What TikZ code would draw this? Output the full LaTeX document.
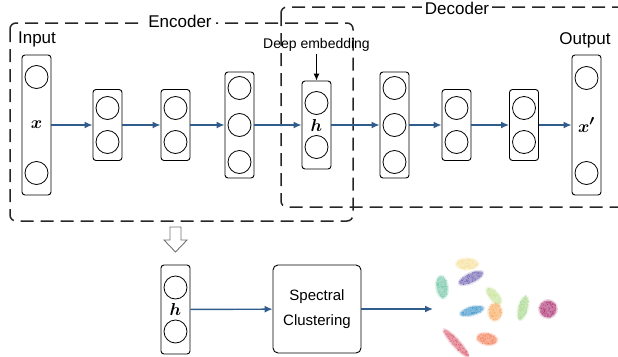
\documentclass[tikz,border=0pt]{standalone}
\usepackage{fontspec}
\setmainfont{Liberation Sans}
\usepackage{amsmath}
\usepackage{bm}
\usetikzlibrary{arrows.meta}
\definecolor{flowblue}{RGB}{47,92,140}
\definecolor{cyellow}{RGB}{246,222,150}
\definecolor{cpurple}{RGB}{108,93,176}
\definecolor{cteal}{RGB}{110,196,164}
\definecolor{clgreen}{RGB}{197,226,150}
\definecolor{cblue}{RGB}{58,147,200}
\definecolor{corange}{RGB}{247,169,92}
\definecolor{cgreen}{RGB}{165,214,138}
\definecolor{cmaroon}{RGB}{168,40,106}
\definecolor{cred}{RGB}{217,86,106}
\definecolor{cored}{RGB}{242,122,80}
\begin{document}
\begin{tikzpicture}[x=1pt,y=-1pt,
  col/.style={draw, rounded corners=3pt, line width=0.9pt, minimum width=29pt, inner sep=0pt},
  unit/.style={draw, circle, minimum size=23pt, inner sep=0pt, line width=0.8pt},
  flow/.style={draw=flowblue, line width=1.4pt, -{Latex[length=8pt,width=7pt]}},
  grp/.style={draw=black!85, line width=1.5pt, dash pattern=on 13pt off 7pt, rounded corners=6pt},
  title/.style={font=\fontsize{17}{20}\selectfont, inner sep=4pt},
  vec/.style={font=\fontsize{19}{22}\selectfont, inner sep=0pt}
]
\path[use as bounding box, clip] (0,0) rectangle (618,356);

% dashed groups
\draw[grp] (281,7) rectangle (640,207);
\draw[grp] (10,23) rectangle (353,221);
\node[title, fill=white] (enc) at (180,21) {Encoder};
\node[title, fill=white, inner sep=3pt] (dec) at (457,8) {Decoder};

% encoder layers
\node[col, minimum height=140pt] (in) at (36.5,125) {};
\node[unit] (in1) at (36.5,77) {};
\node[unit] (in2) at (36.5,173) {};
\node[vec] (inx) at (in) {$\bm{x}$};
\node[title] (inlab) at (37,39) {Input};

\node[col, minimum height=71pt] (e1) at (107.5,125) {};
\node[unit] (e1a) at (107.5,108) {};
\node[unit] (e1b) at (107.5,142) {};

\node[col, minimum height=71pt] (e2) at (175.5,125) {};
\node[unit] (e2a) at (175.5,108) {};
\node[unit] (e2b) at (175.5,142) {};

\node[col, minimum height=106pt] (e3) at (239.5,125) {};
\node[unit] (e3a) at (239.5,88) {};
\node[unit] (e3b) at (239.5,125) {};
\node[unit] (e3c) at (239.5,162) {};

% bottleneck
\node[col, minimum height=88pt] (h) at (316.5,125) {};
\node[unit] (ha) at (316.5,103) {};
\node[unit] (hb) at (316.5,147) {};
\node[vec] (hx) at (h) {$\bm{h}$};
\node[font=\fontsize{14}{16}\selectfont, inner sep=2pt] (de) at (316.5,45) {Deep embedding};

% decoder layers
\node[col, minimum height=106pt] (d1) at (394.5,125) {};
\node[unit] (d1a) at (394.5,88) {};
\node[unit] (d1b) at (394.5,125) {};
\node[unit] (d1c) at (394.5,162) {};

\node[col, minimum height=71pt] (d2) at (456.5,125) {};
\node[unit] (d2a) at (456.5,108) {};
\node[unit] (d2b) at (456.5,142) {};

\node[col, minimum height=71pt] (d3) at (524,125) {};
\node[unit] (d3a) at (524,108) {};
\node[unit] (d3b) at (524,142) {};

\node[col, minimum height=140pt] (out) at (586.5,125) {};
\node[unit] (out1) at (586.5,78) {};
\node[unit] (out2) at (586.5,173) {};
\node[vec] (outx) at (out) {$\bm{x'}$};
\node[title] (outlab) at (585,40) {Output};

% forward connections
\draw[flow] (in) -- (e1);
\draw[flow] (e1) -- (e2);
\draw[flow] (e2) -- (e3);
\draw[flow] (e3) -- (h);
\draw[flow] (h) -- (d1);
\draw[flow] (d1) -- (d2);
\draw[flow] (d2) -- (d3);
\draw[flow] (d3) -- (out);
\draw[line width=0.9pt, -{Latex[length=7pt,width=6pt]}] (de.south) -- (h.north);

% hand-over to clustering
\draw[black!55, line width=0.9pt, fill=white]
  (170,227) -- (181,227) -- (181,240) -- (187,240) -- (175.5,252) -- (164,240) -- (170,240) -- cycle;

\node[col, minimum height=89pt] (hc) at (175.5,309.5) {};
\node[unit] (hca) at (175.5,287.5) {};
\node[unit] (hcb) at (175.5,331.5) {};
\node[vec] (hcx) at (175.5,309) {$\bm{h}$};

\node[draw, rounded corners=5pt, line width=0.9pt, minimum width=88pt, minimum height=88pt,
      align=center, font=\fontsize{15}{25}\selectfont] (sc) at (317,309) {Spectral\\Clustering};
\coordinate (res) at (433,309);
\draw[flow] (hc) -- (sc);
\draw[flow] (sc) -- (res);

% cluster scatter
\pgfmathsetseed{11}
\foreach \cx/\cy/\rx/\ry/\rot/\c in {
  467/264/11/5.5/0/cyellow, 471/278/13/4.5/25/cpurple, 442/287/5.5/11/8/cteal,
  494/296/10/4.5/-50/clgreen, 472/311/12/4/15/cblue, 495/312/6.5/8.5/0/corange,
  523/308/4.5/12/-15/cgreen, 548/309/8.5/8.5/0/cmaroon, 456/343/18/3.5/-48/cred,
  487/339/10/5.5/-10/cored} {
  \begin{scope}[shift={(\cx,\cy)}, rotate=\rot]
    \fill[\c, opacity=0.2] (0,0) ellipse [x radius=\rx+1.5, y radius=\ry+1.5];
    \fill[\c, opacity=0.5] (0,0) ellipse [x radius=\rx, y radius=\ry];
    \foreach \k in {1,...,70} {
      \pgfmathsetmacro\ang{rnd*360}
      \pgfmathsetmacro\rr{sqrt(rnd)*1.05}
      \fill[\c, opacity=0.6] ({\rr*\rx*cos(\ang)},{\rr*\ry*sin(\ang)}) circle (0.6pt);
    }
  \end{scope}
}
\end{tikzpicture}
\end{document}
